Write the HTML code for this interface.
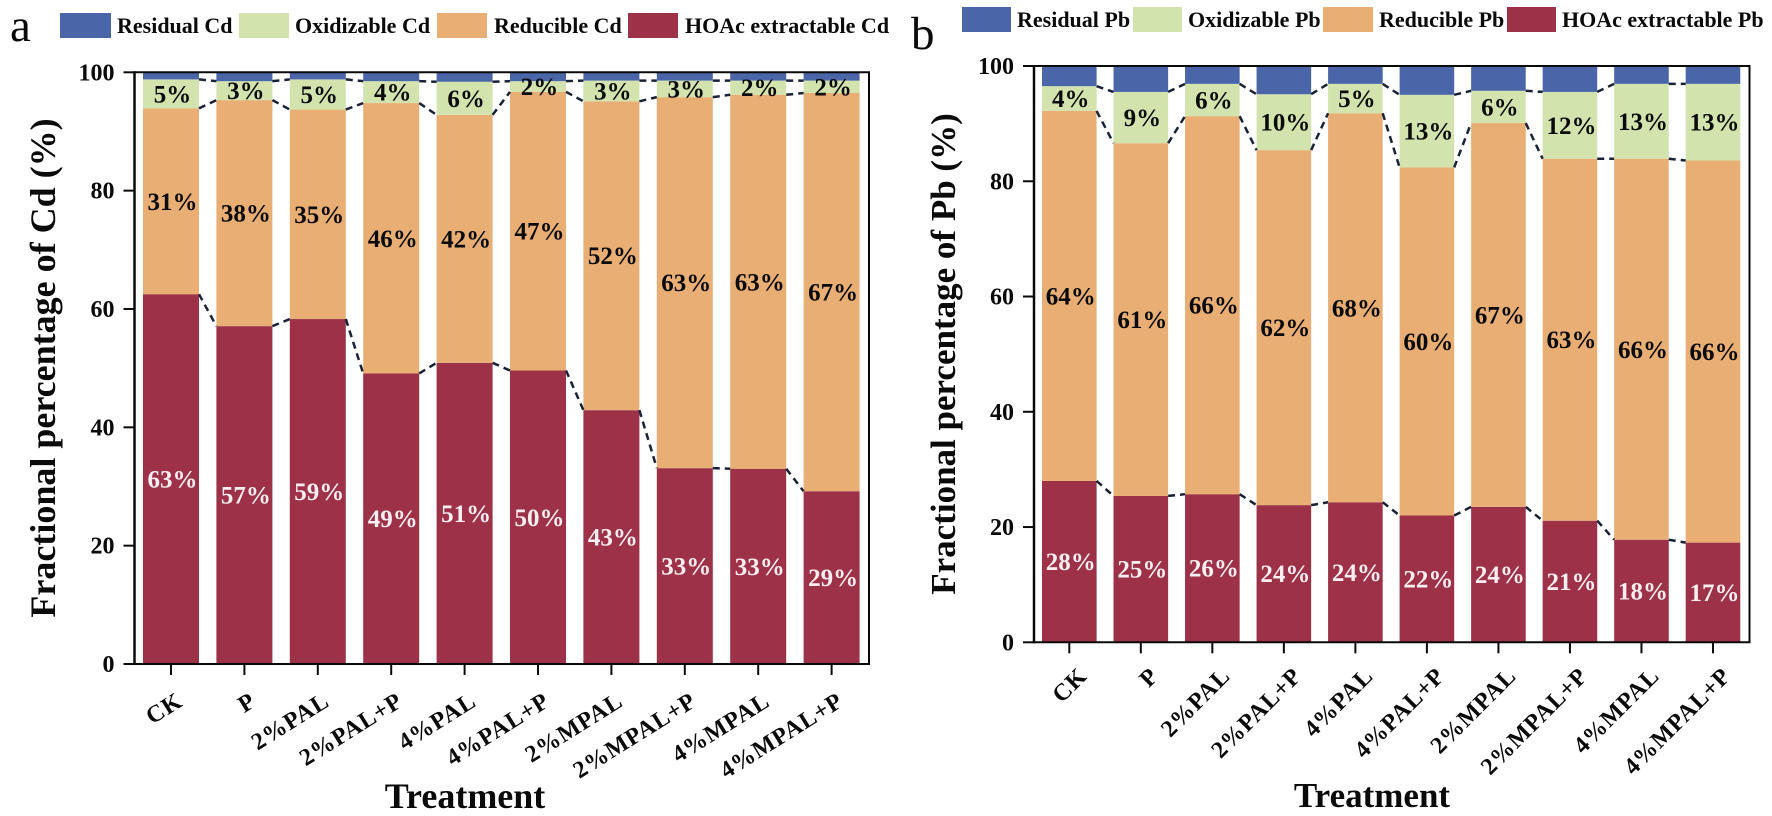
<!DOCTYPE html>
<html lang="en">
<head>
<meta charset="utf-8">
<title>Fractional percentage of Cd and Pb by treatment</title>
<style>
html,body{margin:0;padding:0;background:#fff;}
svg{display:block;}
text{font-family:"Liberation Serif",serif;fill:#0a0a0a;}
.b{font-weight:bold;}
</style>
</head>
<body>
<svg id="fig" xmlns="http://www.w3.org/2000/svg" width="1772" height="816" viewBox="0 0 1772 816">
<rect x="0" y="0" width="1772" height="816" fill="#fff"/>
<text x="10" y="41" font-size="47">a</text>
<text x="911" y="49" font-size="47">b</text>

<g>
<rect x="60" y="13" width="51" height="25" fill="#4a66a8"/>
<text class="b" x="117" y="33" font-size="22">Residual Cd</text>
<rect x="239" y="13" width="50" height="25" fill="#d3e3ae"/>
<text class="b" x="295" y="33" font-size="22">Oxidizable Cd</text>
<rect x="437" y="13" width="50" height="25" fill="#e8ae74"/>
<text class="b" x="494" y="33" font-size="22">Reducible Cd</text>
<rect x="628" y="13" width="50" height="25" fill="#9c3148"/>
<text class="b" x="685" y="33" font-size="22">HOAc extractable Cd</text>
</g>

<g>
<rect x="962" y="7" width="49" height="25" fill="#4a66a8"/>
<text class="b" x="1017" y="27" font-size="22">Residual Pb</text>
<rect x="1133" y="7" width="49" height="25" fill="#d3e3ae"/>
<text class="b" x="1188" y="27" font-size="22">Oxidizable Pb</text>
<rect x="1323" y="7" width="50" height="25" fill="#e8ae74"/>
<text class="b" x="1379" y="27" font-size="22">Reducible Pb</text>
<rect x="1507" y="7" width="49" height="25" fill="#9c3148"/>
<text class="b" x="1562" y="27" font-size="22">HOAc extractable Pb</text>
</g>

<text class="b" font-size="36" text-anchor="middle" transform="translate(55,368) rotate(-90)">Fractional percentage of Cd (%)</text>
<text class="b" font-size="35" text-anchor="middle" transform="translate(955,354) rotate(-90)">Fractional percentage of Pb (%)</text>
<text class="b" font-size="36" text-anchor="middle" x="465" y="808">Treatment</text>
<text class="b" font-size="35" text-anchor="middle" x="1372" y="807">Treatment</text>
</svg>

<script>
const categories = ["CK","P","2%PAL","2%PAL+P","4%PAL","4%PAL+P","2%MPAL","2%MPAL+P","4%MPAL","4%MPAL+P"];
const yTickValues = [0,20,40,60,80,100];

const cdHoac = [62.5,57.1,58.3,49.1,50.9,49.6,42.9,33.1,33.0,29.2];
const cdReducible = [31.4,38.2,35.4,45.7,41.9,47.1,52.2,62.7,63.2,67.3];
const cdOxidizable = [4.9,3.2,5.1,3.7,5.6,1.8,3.5,2.8,2.4,2.1];
const cdResidual = [1.2,1.5,1.2,1.5,1.6,1.5,1.4,1.4,1.4,1.4];
const cdHoacLabels = ["63%","57%","59%","49%","51%","50%","43%","33%","33%","29%"];
const cdReducibleLabels = ["31%","38%","35%","46%","42%","47%","52%","63%","63%","67%"];
const cdOxidizableLabels = ["5%","3%","5%","4%","6%","2%","3%","3%","2%","2%"];

const pbHoac = [28.0,25.4,25.7,23.8,24.3,22.0,23.5,21.1,17.8,17.3];
const pbReducible = [64.2,61.2,65.6,61.6,67.5,60.4,66.6,62.8,66.1,66.3];
const pbOxidizable = [4.3,8.9,5.6,9.7,5.1,12.6,5.6,11.6,13.0,13.3];
const pbResidual = [3.5,4.5,3.1,4.9,3.1,5.0,4.3,4.5,3.1,3.1];
const pbHoacLabels = ["28%","25%","26%","24%","24%","22%","24%","21%","18%","17%"];
const pbReducibleLabels = ["64%","61%","66%","62%","68%","60%","67%","63%","66%","66%"];
const pbOxidizableLabels = ["4%","9%","6%","10%","5%","13%","6%","12%","13%","13%"];

const svg = document.getElementById('fig');
const NS = 'http://www.w3.org/2000/svg';

function make(tag, attrs, parent) {
  const el = document.createElementNS(NS, tag);
  for (const k in attrs) el.setAttribute(k, attrs[k]);
  parent.appendChild(el);
  return el;
}

function drawPanel(p) {
  const yScale = v => p.y0 - (p.y0 - p.y100) * v / 100;
  const xScale = i => p.xFirst + p.pitch * i;
  const group = make('g', {}, svg);
  
  

  const stackSeries = [
    {key:'hoac', values:p.hoac, color:'#9c3148', labels:p.hoacLabels, textColor:'#fbeef0'},
    {key:'reducible', values:p.reducible, color:'#e8ae74', labels:p.reducibleLabels, textColor:'#0a0a0a'},
    {key:'oxidizable', values:p.oxidizable, color:'#d3e3ae', labels:p.oxidizableLabels, textColor:'#0a0a0a'},
    {key:'residual', values:p.residual, color:'#4a66a8', labels:null, textColor:null}
  ];

  const cumulative = categories.map(() => 0);
  const tops = [];
  stackSeries.forEach(s => {
    const base = cumulative.slice();
    categories.forEach((c, i) => {
      const y1 = yScale(base[i]);
      const y2 = yScale(base[i] + s.values[i]);
      const bar = make('rect', {x:xScale(i) - p.barW / 2, y:y2, width:p.barW, height:y1 - y2, fill:s.color}, group);
      
      
      cumulative[i] = base[i] + s.values[i];
    });
    s.base = base;
    tops.push({key:s.key, values:cumulative.slice()});
  });

  tops.slice(0, 3).forEach(t => {
    for (let i = 0; i < categories.length - 1; i++) {
      const link = make('line', {
        x1:xScale(i) + p.barW / 2, y1:yScale(t.values[i]),
        x2:xScale(i + 1) - p.barW / 2, y2:yScale(t.values[i + 1]),
        stroke:'#1a2238', 'stroke-width':2.5, 'stroke-dasharray':'7 5'
      }, group);
      
      
    }
  });

  stackSeries.forEach(s => {
    if (!s.labels) return;
    categories.forEach((c, i) => {
      const mid = yScale(s.base[i] + s.values[i] / 2);
      const lab = make('text', {x:xScale(i) + 1.5, y:mid + 8.5, 'text-anchor':'middle', 'font-size':25, 'font-weight':'bold', style:'fill:' + s.textColor}, group);
      
      
      lab.textContent = s.labels[i];
    });
  });

  const frame = make('path', {d:'M' + p.xLeft + ' ' + p.y100 + 'H' + p.xRight + 'V' + p.y0, fill:'none', stroke:'#0a0a0a', 'stroke-width':2}, group);
  
  
  const yAxis = make('line', {x1:p.xLeft, y1:p.y100 - 1, x2:p.xLeft, y2:p.y0 + 1, stroke:'#0a0a0a', 'stroke-width':2.5}, group);
  
  
  const xAxis = make('line', {x1:p.xLeft, y1:p.y0, x2:p.xRight + 1, y2:p.y0, stroke:'#0a0a0a', 'stroke-width':2}, group);
  
  

  yTickValues.forEach(v => {
    const tick = make('line', {x1:p.xLeft - 11, y1:yScale(v), x2:p.xLeft, y2:yScale(v), stroke:'#0a0a0a', 'stroke-width':2}, group);
    
    
    const lab = make('text', {x:p.xLeft - 20, y:yScale(v) + 8, 'text-anchor':'end', 'font-size':24, 'font-weight':'bold'}, group);
    
    
    lab.textContent = v;
  });

  categories.forEach((c, i) => {
    const tick = make('line', {x1:xScale(i), y1:p.y0, x2:xScale(i), y2:p.y0 + 11, stroke:'#0a0a0a', 'stroke-width':2}, group);
    
    
    const lab = make('text', {
      'text-anchor':'end', 'font-size':24, 'font-weight':'bold', 'letter-spacing':'0.8',
      transform:'translate(' + (xScale(i) + p.labDx) + ',' + (p.y0 + p.labDy) + ') rotate(' + p.labAngle + ')'
    }, group);
    
    
    lab.textContent = c;
  });
}

drawPanel({
  id:'cd', xFirst:171, pitch:73.4, barW:56, xLeft:134.5, xRight:869, y0:664, y100:72.3,
  labDx:13, labDy:41, labAngle:-32,
  hoac:cdHoac, reducible:cdReducible, oxidizable:cdOxidizable, residual:cdResidual,
  hoacLabels:cdHoacLabels, reducibleLabels:cdReducibleLabels, oxidizableLabels:cdOxidizableLabels
});
drawPanel({
  id:'pb', xFirst:1069.3, pitch:71.52, barW:54.6, xLeft:1034, xRight:1749.5, y0:642.3, y100:66,
  labDx:19, labDy:35, labAngle:-45,
  hoac:pbHoac, reducible:pbReducible, oxidizable:pbOxidizable, residual:pbResidual,
  hoacLabels:pbHoacLabels, reducibleLabels:pbReducibleLabels, oxidizableLabels:pbOxidizableLabels
});
</script>
</body>
</html>
